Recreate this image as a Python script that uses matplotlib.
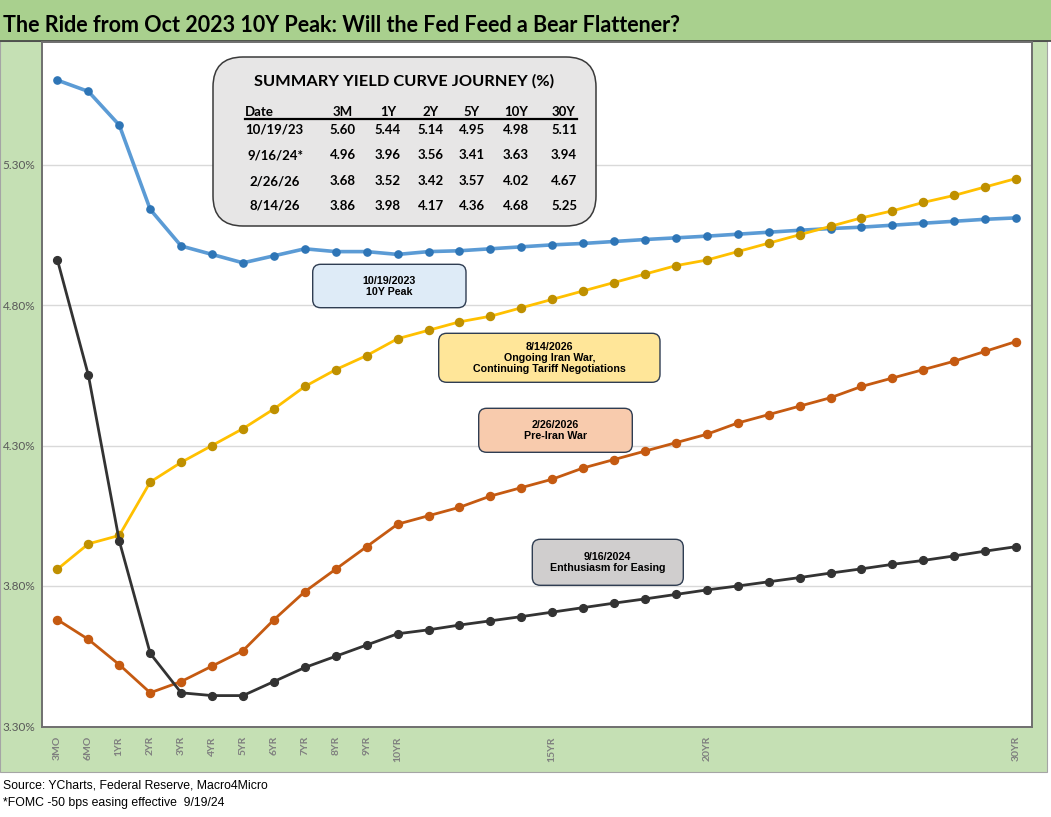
import matplotlib
matplotlib.use("Agg")
import matplotlib.pyplot as plt
from matplotlib.patches import FancyBboxPatch, Rectangle
from matplotlib.lines import Line2D

# ---------------- data ----------------
tenors = ["3MO", "6MO", "1YR", "2YR", "3YR", "4YR", "5YR", "6YR", "7YR", "8YR", "9YR", "10YR",
          "11YR", "12YR", "13YR", "14YR", "15YR", "16YR", "17YR", "18YR", "19YR", "20YR",
          "21YR", "22YR", "23YR", "24YR", "25YR", "26YR", "27YR", "28YR", "29YR", "30YR"]
shown_labels = ["3MO", "6MO", "1YR", "2YR", "3YR", "4YR", "5YR", "6YR", "7YR", "8YR", "9YR",
                "10YR", "15YR", "20YR", "30YR"]

curve_oct23 = [5.60, 5.56, 5.44, 5.14, 5.01, 4.98, 4.95, 4.975, 5.00, 4.99, 4.99, 4.98,
               4.99, 4.993, 5.00, 5.007, 5.014, 5.019, 5.026, 5.033, 5.039, 5.045,
               5.052, 5.059, 5.066, 5.072, 5.077, 5.084, 5.091, 5.098, 5.105, 5.11]
curve_sep24 = [4.96, 4.55, 3.96, 3.56, 3.42, 3.41, 3.41, 3.46, 3.51, 3.55, 3.59, 3.63,
               3.644, 3.661, 3.676, 3.691, 3.707, 3.723, 3.739, 3.754, 3.77, 3.786,
               3.80, 3.815, 3.83, 3.846, 3.861, 3.877, 3.891, 3.907, 3.924, 3.94]
curve_feb26 = [3.68, 3.61, 3.52, 3.42, 3.46, 3.515, 3.57, 3.68, 3.78, 3.86, 3.94, 4.02,
               4.05, 4.08, 4.12, 4.15, 4.18, 4.22, 4.25, 4.28, 4.31, 4.34,
               4.38, 4.41, 4.44, 4.47, 4.51, 4.54, 4.57, 4.60, 4.635, 4.67]
curve_aug26 = [3.86, 3.95, 3.98, 4.17, 4.24, 4.30, 4.36, 4.43, 4.51, 4.57, 4.62, 4.68,
               4.71, 4.74, 4.76, 4.79, 4.82, 4.85, 4.88, 4.91, 4.94, 4.96,
               4.99, 5.02, 5.05, 5.08, 5.11, 5.135, 5.165, 5.19, 5.22, 5.25]

yticks = [3.30, 3.80, 4.30, 4.80, 5.30]

table_dates = ["10/19/23", "9/16/24*", "2/26/26", "8/14/26"]
table_cols = ["3M", "1Y", "2Y", "5Y", "10Y", "30Y"]
table_tenors = ["3MO", "1YR", "2YR", "5YR", "10YR", "30YR"]

title = "The Ride from Oct 2023 10Y Peak: Will the Fed Feed a Bear Flattener?"
table_title = "SUMMARY YIELD CURVE JOURNEY (%)"
notes = ["Source: YCharts, Federal Reserve, Macro4Micro",
         "*FOMC -50 bps easing effective  9/19/24"]
callouts = [
    ("10/19/2023\n10Y Peak", (312.7, 264.3, 466.0, 307.7), "#deebf7"),
    ("8/14/2026\nOngoing Iran War,\nContinuing Tariff Negotiations", (438.7, 333.3, 660.0, 382.3), "#ffe699"),
    ("2/26/2026\nPre-Iran War", (478.7, 408.3, 632.3, 452.3), "#f8cbad"),
    ("9/16/2024\nEnthusiasm for Easing", (532.3, 539.3, 683.3, 585.3), "#d0cece"),
]

# ---------------- figure ----------------
W, H = 1051, 817
fig = plt.figure(figsize=(W / 100, H / 100), dpi=100)
fig.patch.set_facecolor("white")

CAL = ["Liberation Sans Narrow", "Lato", "DejaVu Sans"]
CAL2 = ["Lato", "DejaVu Sans"]
ARIAL = ["Liberation Sans", "DejaVu Sans"]


def fx(px):
    return px / W


def fy(py):
    return 1 - py / H


def rect_px(x0, y0, x1, y1, **kw):
    return Rectangle((x0 / 100, (H - y1) / 100), (x1 - x0) / 100, (y1 - y0) / 100,
                     transform=fig.dpi_scale_trans, **kw)


def rbox_px(x0, y0, x1, y1, r, **kw):
    return FancyBboxPatch((x0 / 100, (H - y1) / 100), (x1 - x0) / 100, (y1 - y0) / 100,
                          boxstyle=f"round,pad=0,rounding_size={r / 100}",
                          transform=fig.dpi_scale_trans, **kw)


# backgrounds
fig.patches.append(rect_px(0, 41, 1047, 772, facecolor="#c5e0b4", edgecolor="#a5a5a5",
                           lw=0.8, zorder=-10))
fig.patches.append(rect_px(0, 0, W, 40.5, facecolor="#a9d08e", edgecolor="none", zorder=-9))
fig.lines.append(Line2D([0, 1], [fy(40.8), fy(40.8)], transform=fig.transFigure,
                        color="#404040", lw=1.2, zorder=-8))

fig.text(fx(3), fy(25), title, family=CAL, fontweight="bold", fontsize=15.5,
         ha="left", va="center", color="black")

# axes
ax = fig.add_axes([fx(42.0), fy(726.5), fx(1031.5) - fx(42.0), fy(42) - fy(726.5)])
ax.set_facecolor("white")
x = list(range(len(tenors)))

ax.plot(x, curve_oct23, color="#5b9bd5", lw=2.6, marker="o", ms=5.2,
        mfc="#2e75b6", mec="#2e75b6", zorder=3)
ax.plot(x, curve_feb26, color="#c55a11", lw=2.0, marker="o", ms=5.8,
        mfc="#c55a11", mec="#c55a11", zorder=4)
ax.plot(x, curve_aug26, color="#ffc000", lw=2.0, marker="o", ms=5.8,
        mfc="#bf9000", mec="#bf9000", zorder=5)
ax.plot(x, curve_sep24, color="#333333", lw=2.0, marker="o", ms=5.6,
        mfc="#333333", mec="#333333", zorder=6)

ymax = 3.30 + (726.5 - 42) / 281.0
ax.set_ylim(3.30, ymax)
ax.set_xlim(-0.5, len(tenors) - 0.5)
ax.set_yticks(yticks)
ax.set_yticklabels([f"{v:.2f}%" for v in yticks], family=CAL2, fontsize=8.5, color="#595959")
tick_pos = [tenors.index(t) for t in shown_labels]
ax.set_xticks(tick_pos)
ax.set_xticklabels(shown_labels, rotation=90, family=CAL2, fontsize=7.5,
                   fontweight="bold", color="#7f7f7f")
ax.tick_params(axis="both", length=0)
ax.tick_params(axis="x", pad=7)
ax.tick_params(axis="y", pad=5)
ax.yaxis.grid(True, color="#d9d9d9", lw=1.0, zorder=0)
ax.set_axisbelow(True)
for s in ax.spines.values():
    s.set_color("#6f6f6f")
    s.set_linewidth(1.4)

# summary table box
fig.patches.append(rbox_px(213, 57, 596, 226, 30, facecolor="#e7e6e6",
                           edgecolor="#3a3a3a", lw=1.1, zorder=10))
fig.text(fx(404), fy(81.5), table_title, family=CAL2, fontweight="bold", fontsize=11.8,
         ha="center", va="center", color="black", zorder=11)
col_x = [343, 388, 431, 472, 516, 564]
TFS = 9.5
fig.text(fx(245), fy(112), "Date", family=CAL2, fontweight="bold", fontsize=TFS,
         ha="left", va="center", zorder=11)
for cx, c in zip(col_x, table_cols):
    fig.text(fx(cx), fy(112), c, family=CAL2, fontweight="bold", fontsize=TFS,
             ha="center", va="center", zorder=11)
fig.lines.append(Line2D([fx(245), fx(577)], [fy(118.5), fy(118.5)], transform=fig.transFigure,
                        color="black", lw=1.6, zorder=11))
row_y = [129.5, 155, 181, 206]
row_x = [245, 248, 249, 249]
series_rows = [curve_oct23, curve_sep24, curve_feb26, curve_aug26]
for ry, rx, d, ser in zip(row_y, row_x, table_dates, series_rows):
    fig.text(fx(rx), fy(ry), d, family=CAL2, fontweight="bold", fontsize=TFS,
             ha="left", va="center", zorder=11)
    for cx, t in zip(col_x, table_tenors):
        fig.text(fx(cx), fy(ry), f"{ser[tenors.index(t)]:.2f}", family=CAL2,
                 fontweight="bold", fontsize=TFS, ha="center", va="center", zorder=11)

# callout boxes
for txt, (x0, y0, x1, y1), fc in callouts:
    fig.patches.append(rbox_px(x0, y0, x1, y1, 8, facecolor=fc, edgecolor="#2f3d52",
                               lw=1.0, zorder=10))
    fig.text(fx((x0 + x1) / 2), fy((y0 + y1) / 2 + 0.5), txt, family=ARIAL, fontweight="bold",
             fontsize=7.7, ha="center", va="center", linespacing=1.15, zorder=11)

# source notes
fig.text(fx(3), fy(786), notes[0], family=ARIAL, fontsize=8.8, ha="left", va="center")
fig.text(fx(3), fy(803), notes[1], family=ARIAL, fontsize=8.8, ha="left", va="center")

fig.savefig("out.png", dpi=100, facecolor=fig.get_facecolor())
